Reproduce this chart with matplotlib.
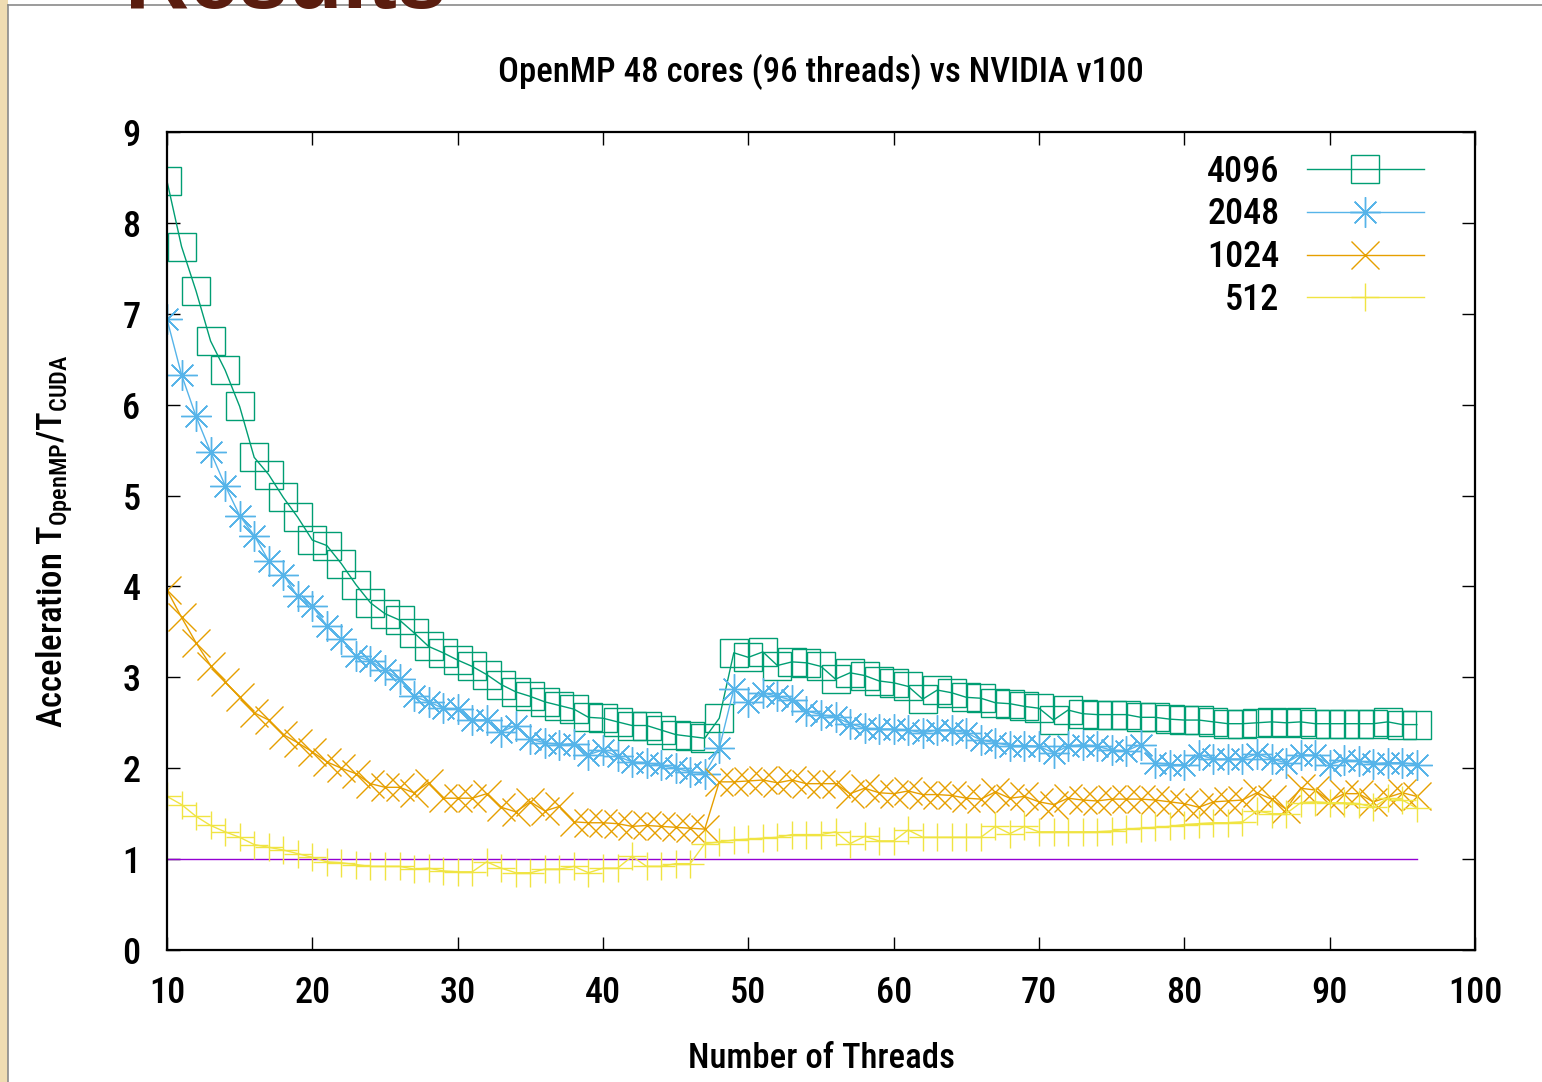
import matplotlib
matplotlib.use("Agg")
import matplotlib.pyplot as plt
from matplotlib import font_manager
from matplotlib.patches import Rectangle
from matplotlib.lines import Line2D

# dados (x = numero de threads, 10..96)
threads = list(range(10, 97))

acc_4096 = [8.46, 7.74, 7.25, 6.70, 6.38, 5.98, 5.42, 5.23, 4.98, 4.76,
            4.51, 4.45, 4.25, 4.02, 3.82, 3.70, 3.63, 3.49, 3.34, 3.27,
            3.19, 3.12, 3.03, 2.92, 2.84, 2.79, 2.73, 2.69, 2.65, 2.56,
            2.55, 2.51, 2.47, 2.47, 2.42, 2.37, 2.35, 2.33, 2.55, 3.27,
            3.22, 3.28, 3.13, 3.17, 3.16, 3.12, 2.98, 3.05, 3.02, 2.96,
            2.94, 2.90, 2.76, 2.86, 2.83, 2.78, 2.77, 2.72, 2.71, 2.68,
            2.66, 2.53, 2.64, 2.60, 2.59, 2.59, 2.59, 2.56, 2.56, 2.54,
            2.53, 2.53, 2.51, 2.49, 2.49, 2.50, 2.51, 2.50, 2.51, 2.49,
            2.49, 2.49, 2.49, 2.49, 2.51, 2.48, 2.48]

acc_2048 = [6.94, 6.33, 5.87, 5.48, 5.11, 4.78, 4.56, 4.28, 4.13, 3.89,
            3.78, 3.57, 3.42, 3.23, 3.18, 3.08, 2.98, 2.79, 2.73, 2.66,
            2.65, 2.53, 2.53, 2.40, 2.47, 2.32, 2.28, 2.26, 2.27, 2.15,
            2.20, 2.13, 2.07, 2.06, 2.03, 2.00, 1.96, 1.94, 2.22, 2.87,
            2.73, 2.83, 2.79, 2.75, 2.63, 2.59, 2.56, 2.49, 2.44, 2.43,
            2.43, 2.42, 2.39, 2.42, 2.42, 2.39, 2.31, 2.28, 2.25, 2.25,
            2.24, 2.17, 2.24, 2.26, 2.24, 2.20, 2.19, 2.26, 2.06, 2.04,
            2.04, 2.15, 2.10, 2.10, 2.10, 2.16, 2.10, 2.06, 2.15, 2.14,
            2.04, 2.09, 2.08, 2.05, 2.06, 2.06, 2.04]

acc_1024 = [3.96, 3.66, 3.38, 3.13, 2.95, 2.78, 2.61, 2.53, 2.37, 2.28,
            2.18, 2.07, 2.00, 1.94, 1.83, 1.79, 1.79, 1.73, 1.84, 1.67,
            1.67, 1.67, 1.72, 1.57, 1.52, 1.63, 1.53, 1.58, 1.41, 1.40,
            1.40, 1.39, 1.36, 1.37, 1.36, 1.35, 1.34, 1.33, 1.85, 1.85,
            1.86, 1.87, 1.84, 1.87, 1.83, 1.83, 1.83, 1.72, 1.78, 1.73,
            1.72, 1.75, 1.71, 1.71, 1.70, 1.67, 1.66, 1.74, 1.67, 1.69,
            1.63, 1.60, 1.67, 1.65, 1.64, 1.66, 1.66, 1.66, 1.65, 1.63,
            1.61, 1.57, 1.63, 1.64, 1.65, 1.73, 1.66, 1.55, 1.78, 1.76,
            1.64, 1.72, 1.72, 1.63, 1.68, 1.73, 1.69]

acc_512 = [1.69, 1.60, 1.47, 1.37, 1.30, 1.24, 1.16, 1.13, 1.10, 1.06,
           1.02, 0.97, 0.96, 0.94, 0.92, 0.92, 0.92, 0.89, 0.90, 0.87,
           0.86, 0.86, 0.97, 0.90, 0.85, 0.85, 0.89, 0.89, 0.92, 0.85,
           0.90, 0.90, 1.03, 0.92, 0.92, 0.95, 0.95, 1.17, 1.19, 1.21,
           1.22, 1.23, 1.24, 1.27, 1.27, 1.27, 1.30, 1.17, 1.25, 1.20,
           1.20, 1.32, 1.24, 1.24, 1.24, 1.24, 1.24, 1.36, 1.28, 1.36,
           1.30, 1.30, 1.30, 1.30, 1.30, 1.31, 1.33, 1.34, 1.35, 1.36,
           1.38, 1.39, 1.40, 1.40, 1.41, 1.53, 1.50, 1.50, 1.62, 1.63,
           1.62, 1.62, 1.61, 1.57, 1.67, 1.65, 1.56]

ideal = [1.0] * len(threads)

series = [('4096', acc_4096, '#009E73', 's', 20),
          ('2048', acc_2048, '#56B4E9', (8, 2, 0), 22),
          ('1024', acc_1024, '#E69F00', 'x', 20),
          ('512', acc_512, '#F0E442', '+', 20)]

# fonte estreita, se existir alguma instalada
fontes = font_manager.fontManager.ttflist
nomes = {f.name for f in fontes}
fs = 22
for cand in ['Roboto Condensed', 'Open Sans Condensed', 'Noto Sans Condensed',
             'Liberation Sans Narrow']:
    if cand in nomes:
        plt.rcParams['font.family'] = [cand, 'DejaVu Sans']
        fs = 26
        break
else:
    if any(f.name == 'DejaVu Sans' and str(f.stretch) == 'condensed' for f in fontes):
        plt.rcParams['font.family'] = ['DejaVu Sans']
        plt.rcParams['font.stretch'] = 'condensed'
        fs = 25
plt.rcParams['font.weight'] = 'medium'
plt.rcParams['axes.titleweight'] = 'medium'
plt.rcParams['axes.labelweight'] = 'medium'

fig = plt.figure(figsize=(15.42, 10.82), dpi=100)

# fundo do slide (faixa da esquerda, linhas cinzas e titulo cortado)
fig.patches.append(Rectangle((0, 0), 8 / 1542, 1, transform=fig.transFigure,
                             facecolor='#efdcb2', edgecolor='none', zorder=0))
fig.add_artist(Line2D([8 / 1542, 8 / 1542], [0, 1 - 5 / 1082], transform=fig.transFigure,
                      color='#8a8a8a', lw=1.2))
fig.add_artist(Line2D([8 / 1542, 1], [1 - 5 / 1082, 1 - 5 / 1082], transform=fig.transFigure,
                      color='#8a8a8a', lw=1.2))
fig.text(125 / 1542, 1 - 8 / 1082, 'Results', fontsize=64, fontweight='bold',
         color='#5a1d0f', ha='left', va='baseline', family=['Liberation Sans', 'DejaVu Sans'],
         fontstretch='normal')

ax = fig.add_axes([167 / 1542, 132 / 1082, 1308 / 1542, 818 / 1082])

ax.plot(threads, ideal, color='#9400D3', lw=1.0)
for label, vals, col, mk, ms in series:
    ax.plot(threads, vals, color=col, lw=1.0, marker=mk, markersize=ms,
            markerfacecolor='none', markeredgecolor=col, markeredgewidth=1.0, label=label)

ax.set_xlim(10, 100)
ax.set_ylim(0, 9)
ax.set_xticks(range(10, 101, 10))
ax.set_yticks(range(0, 10))
ax.tick_params(direction='in', length=9.5, width=1.0, top=True, right=True,
               labelsize=fs)
ax.tick_params(axis='x', pad=18)
ax.tick_params(axis='y', pad=19)
for s in ax.spines.values():
    s.set_linewidth(1.6)

ax.set_title('OpenMP 48 cores (96 threads) vs NVIDIA v100', fontsize=fs - 1, pad=36)
ax.set_xlabel('Number of Threads', fontsize=fs - 1)
ax.set_ylabel('Acceleration $\\mathregular{T_{OpenMP}/T_{CUDA}}$', fontsize=fs - 1)
ax.xaxis.set_label_coords(0.5, -0.112)
ax.yaxis.set_label_coords(-0.07, 0.5)

ax.legend(loc='upper right', markerfirst=False, frameon=False, fontsize=fs,
          handlelength=117 / (fs * 100 / 72), handletextpad=0.75, labelspacing=0.19,
          borderaxespad=0.0, borderpad=0.9, bbox_to_anchor=(1 - 19 / 1308, 1 + 11 / 818))

fig.savefig('out.png', dpi=100)
